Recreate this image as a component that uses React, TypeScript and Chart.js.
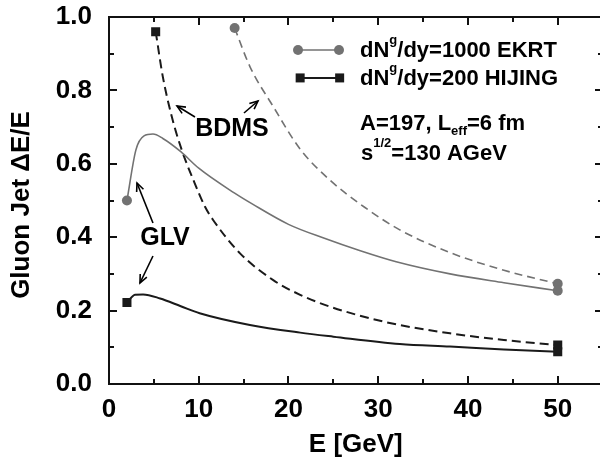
import React, { useEffect, useRef } from "react";
import { Chart, registerables } from "chart.js";

Chart.register(...registerables);

// EKRT (dN^g/dy=1000), GLV (solid grey)
const ekrtGlvE = [2, 3, 3.9, 4.9, 6, 8, 10, 14, 16, 20, 24, 28, 32, 38, 44, 50];
const ekrtGlvV = [0.5, 0.638, 0.676, 0.681, 0.669, 0.633, 0.588, 0.52, 0.49, 0.435, 0.397, 0.363, 0.333, 0.3, 0.276, 0.254];
// EKRT, BDMS (dashed grey)
const ekrtBdmsE = [14, 15.7, 18.3, 21.3, 24.6, 28.4, 32.4, 38, 44, 50];
const ekrtBdmsV = [0.97, 0.865, 0.756, 0.64, 0.556, 0.483, 0.42, 0.358, 0.31, 0.273];
// HIJING (dN^g/dy=200), BDMS (dashed black)
const hijBdmsE = [5.2, 6, 7, 8.1, 9.4, 10.7, 11.6, 14.6, 18.3, 21.3, 24.6, 30.6, 38, 44, 50];
const hijBdmsV = [0.96, 0.837, 0.728, 0.638, 0.556, 0.483, 0.447, 0.356, 0.283, 0.243, 0.211, 0.17, 0.138, 0.12, 0.106];
// HIJING, GLV (solid black)
const hijGlvE = [2, 2.9, 3.8, 5.7, 8, 10.1, 15.7, 21.3, 25, 32.4, 38, 44, 50];
const hijGlvV = [0.222, 0.243, 0.244, 0.233, 0.212, 0.193, 0.161, 0.14, 0.129, 0.109, 0.102, 0.094, 0.088];

const xTickValues = [0, 10, 20, 30, 40, 50];
const yTickValues = [0, 0.2, 0.4, 0.6, 0.8, 1.0];
const X_MIN = 0;
const X_MAX = 55;
const Y_MIN = 0;
const Y_MAX = 1;

const legendLabels = ["1000 EKRT", "200 HIJING"];
const xTitle = "E [GeV]";
const yTitle = "Gluon Jet \u0394E/E";

const FONT = "'Liberation Sans', Arial, Helvetica, sans-serif";
const GRAY = "#727272";
const BLACK = "#1a1a1a";

const mk = (E: number[], V: number[]) => E.map((x, i) => ({ x, y: V[i] }));
const endR = (r: number) => (c: any) =>
  c.dataIndex === 0 || c.dataIndex === c.dataset.data.length - 1 ? r : 0;

function seg(ctx: CanvasRenderingContext2D, x1: number, y1: number, x2: number, y2: number) {
  ctx.beginPath();
  ctx.moveTo(x1, y1);
  ctx.lineTo(x2, y2);
  ctx.stroke();
}

function arrow(ctx: CanvasRenderingContext2D, x1: number, y1: number, x2: number, y2: number) {
  seg(ctx, x1, y1, x2, y2);
  const ang = Math.atan2(y2 - y1, x2 - x1);
  const h = 9;
  const w = 0.42;
  ctx.beginPath();
  ctx.moveTo(x2 - h * Math.cos(ang - w), y2 - h * Math.sin(ang - w));
  ctx.lineTo(x2, y2);
  ctx.lineTo(x2 - h * Math.cos(ang + w), y2 - h * Math.sin(ang + w));
  ctx.stroke();
}

type Part = [string, "n" | "sup" | "sub"];
function rich(ctx: CanvasRenderingContext2D, parts: Part[], x: number, y: number) {
  let cx = x;
  for (const [t, k] of parts) {
    const size = k === "n" ? 22 : 13;
    ctx.font = `bold ${size}px ${FONT}`;
    const dy = k === "sup" ? -13 : k === "sub" ? 4.5 : 0;
    ctx.fillText(t, cx, y + dy);
    cx += ctx.measureText(t).width;
  }
}

// frame + inward ticks, drawn with filled rectangles
function drawFrame(ctx: CanvasRenderingContext2D, scales: any) {
  const X = (v: number) => scales.x.getPixelForValue(v);
  const Y = (v: number) => scales.y.getPixelForValue(v);
  const L = Math.round(X(X_MIN));
  const R = Math.round(X(X_MAX));
  const T = Math.round(Y(Y_MAX));
  const B = Math.round(Y(Y_MIN));
  ctx.save();
  ctx.fillStyle = "#111111";
  ctx.fillRect(L - 1, B - 1, R - L + 2, 2);
  ctx.fillRect(L - 1, T - 1, R - L + 2, 2);
  ctx.fillRect(L - 1, T - 1, 2, B - T + 2);
  ctx.fillRect(R - 1, T - 1, 2, B - T + 2);
  for (let i = 0; i <= 11; i++) {
    const px = Math.round(X(i * 5));
    const len = i % 2 === 0 ? 8 : 5;
    ctx.fillRect(px - 1, B - len, 2, len);
    ctx.fillRect(px - 1, T, 2, len);
  }
  for (let i = 0; i <= 10; i++) {
    const py = Math.round(Y(i / 10));
    const len = i % 2 === 0 ? 8 : 5;
    ctx.fillRect(L, py - 1, len, 2);
    ctx.fillRect(R - len, py - 1, len, 2);
  }
  ctx.restore();
}

const annot = {
  id: "annot",
  afterDraw(chart: any) {
    const { ctx, scales } = chart;
    const X = (v: number) => scales.x.getPixelForValue(v);
    const Y = (v: number) => scales.y.getPixelForValue(v);
    ctx.save();
    ctx.setLineDash([]);
    ctx.globalAlpha = 1;

    drawFrame(ctx, scales);

    // legend symbols
    ctx.strokeStyle = GRAY;
    ctx.fillStyle = GRAY;
    ctx.lineWidth = 1.6;
    seg(ctx, X(21.06), Y(0.91), X(25.63), Y(0.91));
    for (const e of [21.06, 25.63]) {
      ctx.beginPath();
      ctx.arc(X(e), Y(0.91), 5, 0, Math.PI * 2);
      ctx.fill();
    }
    ctx.strokeStyle = BLACK;
    ctx.fillStyle = BLACK;
    ctx.lineWidth = 2;
    seg(ctx, X(21.3), Y(0.834), X(25.7), Y(0.834));
    for (const e of [21.3, 25.7]) {
      ctx.fillRect(X(e) - 4.5, Y(0.834) - 4.5, 9, 9);
    }

    // legend text
    ctx.fillStyle = "#000";
    ctx.textAlign = "left";
    ctx.textBaseline = "alphabetic";
    rich(ctx, [["dN", "n"], ["g", "sup"], ["/dy=" + legendLabels[0], "n"]], X(27.97), Y(0.891));
    rich(ctx, [["dN", "n"], ["g", "sup"], ["/dy=" + legendLabels[1], "n"]], X(27.97), Y(0.815));
    rich(ctx, [["A=197, L", "n"], ["eff", "sub"], ["=6 fm", "n"]], X(27.97), Y(0.692));
    rich(ctx, [["s", "n"], ["1/2", "sup"], ["=130 AGeV", "n"]], X(28.08), Y(0.61));

    // BDMS / GLV labels
    ctx.font = `bold 25px ${FONT}`;
    ctx.textAlign = "center";
    ctx.textBaseline = "middle";
    ctx.fillText("BDMS", X(13.7), Y(0.695));
    ctx.fillText("GLV", X(6.24), Y(0.398));

    ctx.strokeStyle = "#000";
    ctx.lineWidth = 1.6;
    arrow(ctx, X(9.58), Y(0.7275), X(7.58), Y(0.7575));
    arrow(ctx, X(15.04), Y(0.7384), X(16.6), Y(0.7711));
    arrow(ctx, X(4.9), Y(0.4387), X(3.12), Y(0.5477));
    arrow(ctx, X(4.9), Y(0.3488), X(3.45), Y(0.2752));

    // axis titles
    ctx.font = `bold 26px ${FONT}`;
    ctx.textAlign = "center";
    ctx.textBaseline = "alphabetic";
    ctx.fillText(xTitle, (X(X_MIN) + X(X_MAX)) / 2, 452);
    ctx.save();
    ctx.translate(29, 205);
    ctx.rotate(-Math.PI / 2);
    ctx.fillText(yTitle, 0, 0);
    ctx.restore();

    ctx.restore();
  },
};

export default function App() {
  const ref = useRef<HTMLCanvasElement | null>(null);
  const overlayRef = useRef<HTMLCanvasElement | null>(null);
  useEffect(() => {
    if (!ref.current) return;
    const overlayPlugin = {
      id: "overlayFrame",
      afterRender(chart: any) {
        const oc = overlayRef.current;
        if (!oc) return;
        const octx = oc.getContext("2d");
        if (!octx) return;
        octx.clearRect(0, 0, oc.width, oc.height);
        drawFrame(octx, chart.scales);
      },
    };
    const chart = new Chart(ref.current, {
      type: "scatter",
      data: {
        datasets: [
          {
            data: mk(ekrtGlvE, ekrtGlvV),
            showLine: true,
            borderColor: GRAY,
            backgroundColor: GRAY,
            borderWidth: 1.6,
            pointRadius: endR(5),
            pointStyle: "circle",
            pointBorderWidth: 0,
            cubicInterpolationMode: "monotone",
          },
          {
            data: mk(ekrtBdmsE, ekrtBdmsV),
            showLine: true,
            borderColor: GRAY,
            backgroundColor: GRAY,
            borderWidth: 1.6,
            borderDash: [8, 5],
            pointRadius: endR(5),
            pointStyle: "circle",
            pointBorderWidth: 0,
            cubicInterpolationMode: "monotone",
          },
          {
            data: mk(hijBdmsE, hijBdmsV),
            showLine: true,
            borderColor: BLACK,
            backgroundColor: BLACK,
            borderWidth: 2,
            borderDash: [9, 5],
            pointRadius: endR(6.4),
            pointStyle: "rect",
            pointBorderWidth: 0,
            cubicInterpolationMode: "monotone",
          },
          {
            data: mk(hijGlvE, hijGlvV),
            showLine: true,
            borderColor: BLACK,
            backgroundColor: BLACK,
            borderWidth: 2,
            pointRadius: endR(6.4),
            pointStyle: "rect",
            pointBorderWidth: 0,
            cubicInterpolationMode: "monotone",
          },
        ],
      },
      options: {
        animation: false,
        responsive: false,
        maintainAspectRatio: false,
        layout: { padding: { left: 0, top: 17, right: 7.4, bottom: 0 } },
        plugins: { legend: { display: false }, tooltip: { enabled: false } },
        scales: {
          x: {
            type: "linear",
            min: X_MIN,
            max: X_MAX,
            afterFit: (s: any) => {
              s.height = 76;
              s.paddingLeft = 0;
              s.paddingRight = 0;
            },
            afterBuildTicks: (s: any) => {
              s.ticks = xTickValues.map((v) => ({ value: v }));
            },
            grid: { display: false, drawTicks: false },
            border: { display: false },
            ticks: {
              padding: 10,
              color: "#000",
              font: { family: FONT, size: 26, weight: "bold" },
              maxRotation: 0,
              callback: (v: any) => String(v),
            },
          },
          y: {
            type: "linear",
            min: Y_MIN,
            max: Y_MAX,
            afterFit: (s: any) => {
              s.width = 109;
              s.paddingTop = 0;
              s.paddingBottom = 0;
            },
            afterBuildTicks: (s: any) => {
              s.ticks = yTickValues.map((v) => ({ value: v }));
            },
            grid: { display: false, drawTicks: false },
            border: { display: false },
            ticks: {
              padding: 17,
              color: "#000",
              font: { family: FONT, size: 26, weight: "bold" },
              callback: (v: any) => Number(v).toFixed(1),
            },
          },
        },
      },
      plugins: [annot, overlayPlugin],
    } as any);
    return () => chart.destroy();
  }, []);
  return (
    <div style={{ position: "fixed", left: 0, top: 0, width: 610, height: 460, background: "#fff" }}>
      <canvas ref={ref} width={610} height={460} style={{ width: 610, height: 460, display: "block" }} />
      <canvas
        ref={overlayRef}
        width={610}
        height={460}
        style={{ position: "absolute", left: 0, top: 0, width: 610, height: 460, pointerEvents: "none" }}
      />
    </div>
  );
}
